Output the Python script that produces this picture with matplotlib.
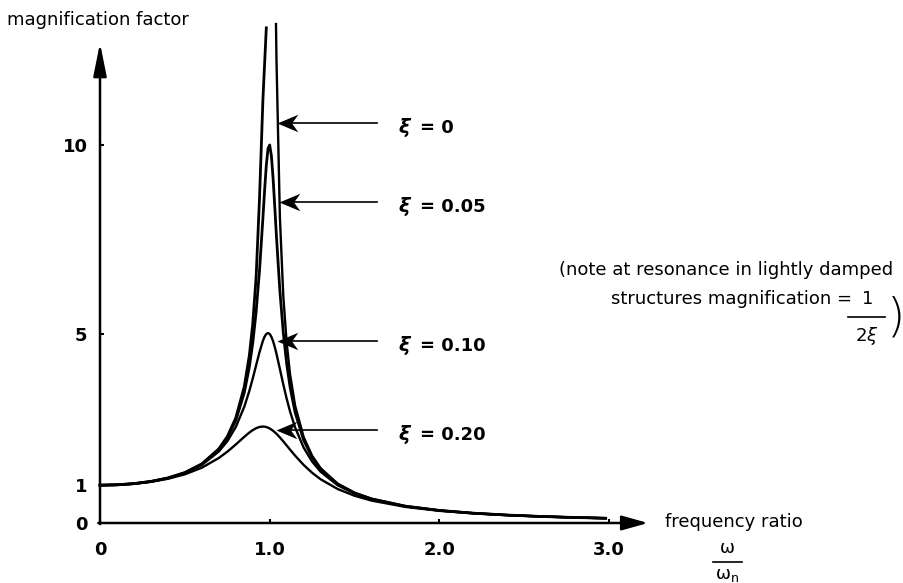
import matplotlib
matplotlib.use("Agg")
import matplotlib.pyplot as plt
from matplotlib.lines import Line2D
from matplotlib.path import Path
from matplotlib.transforms import offset_copy

plt.rcParams["mathtext.fontset"] = "dejavusans"

# ---------------- data ----------------
ratio = [0, 0.1, 0.2, 0.3, 0.4, 0.5, 0.6, 0.7, 0.75, 0.8, 0.85, 0.88, 0.9,
         0.92, 0.94, 0.96, 0.97, 0.98, 0.99, 1.0, 1.01, 1.02, 1.03, 1.04,
         1.06, 1.08, 1.1, 1.12, 1.15, 1.2, 1.25, 1.3, 1.4, 1.5, 1.6, 1.8,
         2.0, 2.2, 2.4, 2.6, 2.8, 2.98]

mag_020 = [1.000, 1.009, 1.038, 1.089, 1.169, 1.288, 1.463, 1.719, 1.885,
           2.076, 2.279, 2.392, 2.457, 2.508, 2.541, 2.552, 2.548, 2.538,
           2.522, 2.500, 2.472, 2.439, 2.401, 2.359, 2.264, 2.160, 2.051,
           1.941, 1.780, 1.536, 1.329, 1.157, 0.900, 0.721, 0.593, 0.425,
           0.322, 0.254, 0.206, 0.171, 0.144, 0.125]

mag_010 = [1.000, 1.010, 1.041, 1.097, 1.185, 1.322, 1.536, 1.891, 2.162,
           2.538, 3.073, 3.495, 3.821, 4.172, 4.522, 4.822, 4.931, 5.001,
           5.025, 5.000, 4.926, 4.809, 4.655, 4.476, 4.075, 3.668, 3.288,
           2.950, 2.524, 1.995, 1.625, 1.356, 1.000, 0.778, 0.628, 0.441,
           0.330, 0.259, 0.209, 0.173, 0.146, 0.127]

mag_005 = [1.000, 1.010, 1.041, 1.098, 1.189, 1.330, 1.556, 1.943, 2.253,
           2.712, 3.446, 4.130, 4.756, 5.585, 6.684, 8.068, 8.804, 9.461,
           9.903, 10.000, 9.711, 9.115, 8.357, 7.565, 6.141, 5.041, 4.218,
           3.598, 2.921, 2.193, 1.735, 1.424, 1.031, 0.794, 0.638, 0.445,
           0.333, 0.260, 0.210, 0.173, 0.146, 0.127]

ratio_0_left = [0, 0.1, 0.2, 0.3, 0.4, 0.5, 0.6, 0.7, 0.75, 0.8, 0.85, 0.88,
                0.9, 0.92, 0.94, 0.96, 0.98]
mag_0_left = [1.000, 1.010, 1.042, 1.099, 1.190, 1.333, 1.563, 1.961, 2.286,
              2.778, 3.604, 4.433, 5.263, 6.510, 8.591, 11.2, 13.1]

ratio_0_right = [1.037, 1.04, 1.06, 1.08, 1.1, 1.12, 1.15, 1.2, 1.25, 1.3,
                 1.4, 1.5, 1.6, 1.8, 2.0, 2.2, 2.4, 2.6, 2.8, 2.98]
mag_0_right = [13.2, 12.25, 8.09, 6.01, 4.762, 3.931, 3.101, 2.273, 1.778,
               1.449, 1.042, 0.800, 0.641, 0.446, 0.333, 0.260, 0.210, 0.174,
               0.146, 0.127]

damping_labels = ["0", "0.05", "0.10", "0.20"]
label_levels = [10.58, 8.49, 4.81, 2.46]     # heights of the pointer arrows

y_ticks = [0, 1, 5, 10]
y_ticklabels = ["0", "1", "5", "10"]
x_ticks = [0, 1, 2, 3]
x_ticklabels = ["0", "1.0", "2.0", "3.0"]

# ---------------- layout ----------------
W, H = 904, 583
X0, SX = 100.0, 169.7     # pixel of x=0, pixels per unit
Y0, SY = 523.0, 37.8      # pixel (from top) of y=0, pixels per unit


def fx(px):
    return (px - X0) / SX


def fy(py):
    return (Y0 - py) / SY


fig = plt.figure(figsize=(W / 100, H / 100), dpi=100)
ax = fig.add_axes([0, 0, 1, 1])
ax.set_xlim(fx(0), fx(W))
ax.set_ylim(fy(H), fy(0))
for s in ax.spines.values():
    s.set_visible(False)
ax.spines["left"].set_position(("data", 0))
ax.spines["bottom"].set_position(("data", 0))

BOLD = dict(family="DejaVu Sans", fontweight="bold", fontsize=13)

ax.set_yticks(y_ticks)
ax.set_yticklabels(y_ticklabels, **BOLD)
ax.set_xticks(x_ticks)
ax.set_xticklabels(x_ticklabels, **BOLD)
ax.tick_params(axis="y", direction="in", length=3, width=1.5, pad=9)
ax.tick_params(axis="x", direction="in", length=3, width=1.5, pad=13)

# axes with arrowheads
ax.annotate("", xy=(0, 12.7), xytext=(0, -0.03),
            arrowprops=dict(arrowstyle="-|>,head_length=2.0,head_width=0.4",
                            lw=1.8, color="black", mutation_scale=10,
                            shrinkA=0, shrinkB=0))
ax.annotate("", xy=(fx(648), 0), xytext=(-0.01, 0),
            arrowprops=dict(arrowstyle="-|>,head_length=1.6,head_width=0.45",
                            lw=1.8, color="black", mutation_scale=10,
                            shrinkA=0, shrinkB=0))

# curves
lw = 1.7
ax.plot(ratio_0_left, mag_0_left, color="black", lw=lw + 0.3)
ax.plot(ratio_0_right, mag_0_right, color="black", lw=lw)
ax.plot(ratio, mag_005, color="black", lw=lw + 0.3)
ax.plot(ratio, mag_010, color="black", lw=lw)
ax.plot(ratio, mag_020, color="black", lw=lw)

# barbed arrowhead pointing left, tip at the origin
barb = Path([(0, 0), (1.0, 0.42), (0.70, 0), (1.0, -0.42), (0, 0)],
            [Path.MOVETO, Path.LINETO, Path.LINETO, Path.LINETO,
             Path.CLOSEPOLY])

# pointer arrows and labels
tips = [fx(277), fx(279), fx(277), fx(276)]
for lab, yv, tip in zip(damping_labels, label_levels, tips):
    ax.plot([tip + 0.05, fx(377)], [yv, yv], color="black", lw=1.2)
    ax.plot([tip], [yv], marker=barb, ms=30, mew=0, color="black")
    ax.text(fx(398), yv - 0.12, "ξ", family="DejaVu Sans", fontweight="bold",
            fontstyle="italic", fontsize=14, ha="left", va="center")
    tr = offset_copy(ax.transData, fig=fig, x=22, y=0, units="dots")
    ax.text(fx(398), yv - 0.12, "= " + lab, transform=tr, ha="left",
            va="center", **BOLD)

# axis titles
NOTE = dict(family="DejaVu Sans", fontsize=13, color="black")
ax.text(fx(7), fy(20), "magnification factor", ha="left", va="center", **NOTE)
ax.text(fx(665), fy(522), "frequency ratio", ha="left", va="center", **NOTE)
ax.text(fx(727), fy(548), "ω", ha="center", va="center", **NOTE)
fig.add_artist(Line2D([713 / W, 742 / W], [1 - 562 / H, 1 - 562 / H],
                      color="black", lw=1.2))
ax.text(fx(727), fy(575), r"$\mathregular{\omega_n}$", ha="center",
        va="center", **NOTE)

# note
ax.text(fx(893), fy(270), "(note at resonance in lightly damped",
        ha="right", va="center", **NOTE)
ax.text(fx(852), fy(299), "structures magnification =",
        ha="right", va="center", **NOTE)
ax.text(fx(868), fy(299), "1", ha="center", va="center", **NOTE)
fig.add_artist(Line2D([848 / W, 885 / W], [1 - 317 / H, 1 - 317 / H],
                      color="black", lw=1.2))
ax.text(fx(867), fy(336), r"$2\xi$", ha="center", va="center", **NOTE)
ax.text(fx(896), fy(318), ")", ha="center", va="center",
        family="DejaVu Sans", fontsize=34, fontweight="light")

fig.savefig("out.png", dpi=100)
